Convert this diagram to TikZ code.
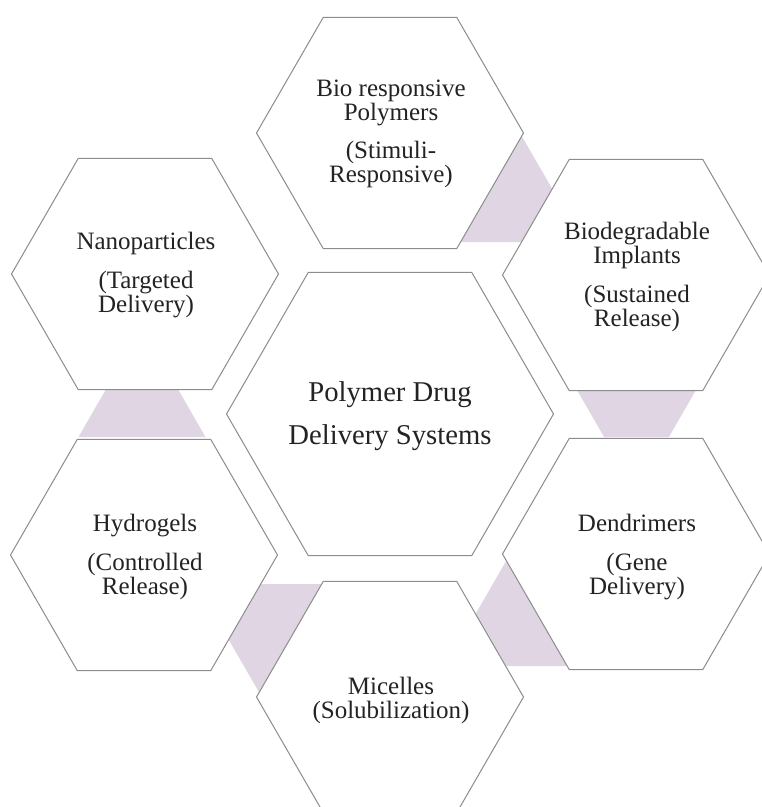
\documentclass[tikz,border=0pt]{standalone}
\usepackage{fontspec}
\setmainfont{Liberation Serif}
\definecolor{shadecol}{RGB}{224,213,226}
\definecolor{hexline}{RGB}{140,140,140}
\definecolor{txtcol}{RGB}{35,35,35}
\newcommand\hexpath[3]{%
  ({#1+#3},#2) -- ({#1+#3/2},{#2+0.8660254*#3}) -- ({#1-#3/2},{#2+0.8660254*#3}) --
  ({#1-#3},#2) -- ({#1-#3/2},{#2-0.8660254*#3}) -- ({#1+#3/2},{#2-0.8660254*#3}) -- cycle}
\begin{document}
\begin{tikzpicture}[x=0.75pt,y=-0.75pt,
  hexagon/.style={draw=hexline, fill=white, line width=0.75pt, line join=miter},
  link/.style={fill=shadecol, draw=none},
  lbl/.style={align=center, text=txtcol, inner sep=0pt, font=\fontsize{18.75}{18}\selectfont},
  ctrlbl/.style={align=center, text=txtcol, inner sep=0pt, font=\fontsize{21.5}{32.5}\selectfont}]
\useasboundingbox (0,0) rectangle (762,807);
\clip (0,0) rectangle (762,807);
% connector shapes
\fill[link] (520,133) -- (554,192) -- (530,242) -- (450,242) -- cycle;
\fill[link] (571.2,380) -- (701.8,380) -- (668.9,437) -- (604.1,437) -- cycle;
\fill[link] (111.3,380) -- (172.7,380) -- (205.5,437) -- (78.5,437) -- cycle;
\fill[link] (509,556) -- (472.1,620) -- (495,666) -- (575,666) -- cycle;
\fill[link] (255,584) -- (223.1,630) -- (263.5,700) -- (330,584) -- cycle;
% hexagons
\draw[hexagon] \hexpath{390}{414}{163.5};
\draw[hexagon] \hexpath{390}{133}{133.5};
\draw[hexagon] \hexpath{145}{274}{133.5};
\draw[hexagon] \hexpath{636}{275}{133.5};
\draw[hexagon] \hexpath{636}{554}{133.5};
\draw[hexagon] \hexpath{390}{697}{133.5};
\draw[hexagon] \hexpath{144}{555}{133.5};
% labels
\node[ctrlbl] (center) at (390,416) {Polymer Drug\\Delivery Systems};
\node[lbl] (bio) at (391,134) {Bio responsive\\Polymers\\[11pt](Stimuli-\\Responsive)};
\node[lbl] (nano) at (146,275) {Nanoparticles\\[11pt](Targeted\\Delivery)};
\node[lbl] (implants) at (637,277) {Biodegradable\\Implants\\[11pt](Sustained\\Release)};
\node[lbl] (dend) at (637,557) {Dendrimers\\[11pt](Gene\\Delivery)};
\node[lbl] (mic) at (391,700) {Micelles\\(Solubilization)};
\node[lbl] (hydro) at (145,557) {Hydrogels\\[11pt](Controlled\\Release)};
\end{tikzpicture}
\end{document}
